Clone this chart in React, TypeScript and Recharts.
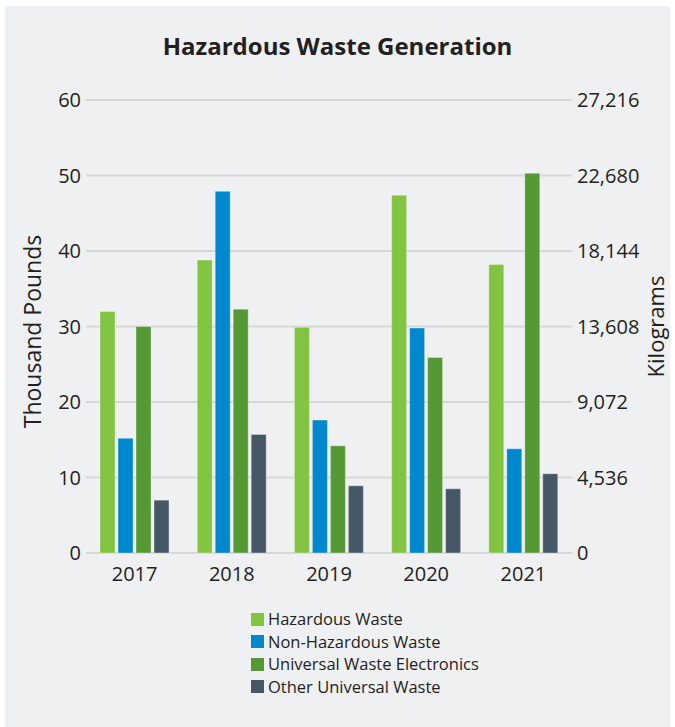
import React from 'react';
import { ComposedChart, Bar, Line, XAxis, YAxis, CartesianGrid } from 'recharts';

const years = ['2017', '2018', '2019', '2020', '2021'];
const hazardousWaste = [32, 38.8, 29.9, 47.4, 38.2];
const nonHazardousWaste = [15.2, 47.9, 17.6, 29.8, 13.8];
const universalWasteElectronics = [30, 32.3, 14.2, 25.9, 50.3];
const otherUniversalWaste = [7, 15.7, 8.9, 8.5, 10.5];

const poundTicks = [0, 10, 20, 30, 40, 50, 60];
const kilogramTicks = [0, 4536, 9072, 13608, 18144, 22680, 27216];

const seriesNames = ['Hazardous Waste', 'Non-Hazardous Waste', 'Universal Waste Electronics', 'Other Universal Waste'];
const seriesKeys = ['haz', 'nonHaz', 'uwe', 'other'];
const seriesColors = ['#82c341', '#0088ce', '#559935', '#465866'];

const data = years.map((y, i) => ({
  year: y,
  haz: hazardousWaste[i],
  nonHaz: nonHazardousWaste[i],
  uwe: universalWasteElectronics[i],
  other: otherUniversalWaste[i],
}));

const FONT = '"Open Sans", "Noto Sans", sans-serif';
const TEXT = '#231f20';

export default function App() {
  return (
    <div style={{ position: 'absolute', left: 0, top: 0, width: 675, height: 727, background: '#ffffff', fontFamily: FONT }}>
      <div style={{ position: 'absolute', left: 5, top: 6, width: 665, height: 721, background: '#eff0f2' }} />
      <div
        style={{
          position: 'absolute',
          left: 0,
          top: 28,
          width: 675,
          textAlign: 'center',
          fontSize: 24,
          fontWeight: 700,
          color: TEXT,
          lineHeight: '36px',
        }}
      >
        Hazardous Waste Generation
      </div>
      <div style={{ position: 'absolute', left: 0, top: 0 }}>
        <ComposedChart
          width={675}
          height={727}
          data={data}
          margin={{ top: 100, right: 0, left: 0, bottom: 144 }}
          barSize={15}
          barGap={3}
        >
          <CartesianGrid vertical={false} stroke="#d6d7d9" strokeWidth={2} yAxisId="left" />
          <XAxis
            dataKey="year"
            axisLine={false}
            tickLine={false}
            tickSize={0}
            tickMargin={14}
            height={30}
            tick={{ fill: TEXT, fontSize: 20, fontFamily: FONT }}
          />
          <YAxis
            yAxisId="left"
            domain={[0, 60]}
            ticks={poundTicks}
            axisLine={false}
            tickLine={false}
            tickSize={0}
            tickMargin={5}
            width={86}
            interval={0}
            tick={{ fill: TEXT, fontSize: 20, fontFamily: FONT }}
            label={{
              value: 'Thousand Pounds',
              angle: -90,
              position: 'center',
              dx: -10,
              dy: 5,
              style: { fill: TEXT, fontSize: 23, fontFamily: FONT, textAnchor: 'middle' },
            }}
          />
          <YAxis
            yAxisId="right"
            orientation="right"
            domain={[0, 27216]}
            ticks={kilogramTicks}
            allowDataOverflow
            axisLine={false}
            tickLine={false}
            tickSize={0}
            tickMargin={5}
            width={103}
            interval={0}
            tickFormatter={(v: number) => v.toLocaleString('en-US')}
            tick={{ fill: TEXT, fontSize: 20, fontFamily: FONT }}
            label={{
              value: 'Kilograms',
              angle: -90,
              position: 'center',
              dx: 33,
              style: { fill: TEXT, fontSize: 22, fontFamily: FONT, textAnchor: 'middle' },
            }}
          />
          {seriesKeys.map((k, i) => (
            <Bar
              key={k}
              yAxisId="left"
              dataKey={k}
              name={seriesNames[i]}
              fill={seriesColors[i]}
              stroke="#ffffff"
              strokeOpacity={0.35}
              strokeWidth={1}
              isAnimationActive={false}
            />
          ))}
          <Line
            yAxisId="right"
            dataKey="haz"
            stroke="none"
            strokeOpacity={0}
            dot={false}
            activeDot={false}
            legendType="none"
            isAnimationActive={false}
          />
        </ComposedChart>
      </div>
      <div style={{ position: 'absolute', left: 251, top: 608 }}>
        {seriesNames.map((n, i) => (
          <div key={n} style={{ display: 'flex', alignItems: 'center', height: 22.5 }}>
            <div style={{ width: 13, height: 13, background: seriesColors[i], marginRight: 4 }} />
            <span style={{ fontSize: 16.5, color: TEXT, fontFamily: FONT, lineHeight: '22px' }}>{n}</span>
          </div>
        ))}
      </div>
    </div>
  );
}
